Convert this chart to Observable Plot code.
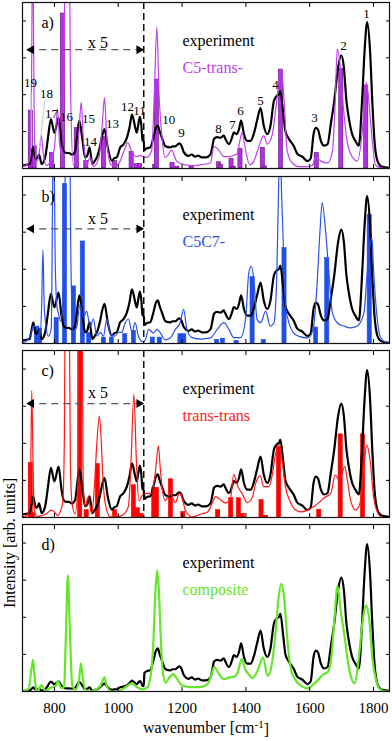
<!DOCTYPE html>
<html><head><meta charset="utf-8">
<script src="https://cdn.jsdelivr.net/npm/d3@7"></script>
<script src="https://cdn.jsdelivr.net/npm/@observablehq/plot@0.6"></script>
<style>
body{margin:0;background:#fff;}
#chart svg{display:block;font-family:"Liberation Serif","Times New Roman",serif !important;}
#chart svg text{font-family:"Liberation Serif","Times New Roman",serif !important;}
</style></head><body><div id="chart"></div>
<script>
// ---------- data (wavenumber [cm-1], intensity [arb. units]) ----------
// experiment, region left of dashed line, as drawn magnified "x 5"
const expLeftX5 = [[700,0.08],[712,0.1],[722,0.12],[727,0.3],[734,0.57],[740,0.3],[745,0.26],[752,0.38],[760,0.12],[771,0.3],[779,0.77],[789,1.34],[800,0.97],[813,1.37],[822,0.77],[829,0.47],[838,0.42],[845,0.42],[855,0.38],[865,0.47],[870,0.8],[878,1.3],[888,0.77],[896,0.3],[903,0.35],[910,0.57],[919,0.12],[926,0.2],[933,0.3],[943,0.6],[950,0.9],[957,1.07],[967,0.57],[980,0.21],[988,0.28],[995,0.3],[1006,0.57],[1016,0.65],[1027,0.83],[1035,1.1],[1043,1.46],[1053,1.12],[1058,0.97],[1063,1.2],[1068,1.4],[1072,1.2],[1076,0.77],[1080,0.73]];
// experiment, right of dashed line (unscaled)
const expRight = [[1082,0.5],[1090,0.55],[1100,0.57],[1110,0.83],[1118,1.1],[1124,1.16],[1130,1.0],[1137,0.83],[1148,0.6],[1163,0.57],[1170,0.6],[1179,0.6],[1186,0.65],[1192,0.68],[1198,0.62],[1205,0.45],[1220,0.34],[1230,0.38],[1241,0.32],[1250,0.35],[1262,0.3],[1274,0.3],[1289,0.38],[1295,0.6],[1300,0.8],[1310,0.85],[1320,0.83],[1331,0.89],[1336,0.8],[1347,0.66],[1357,0.85],[1362,0.98],[1371,0.93],[1378,1.05],[1385,1.3],[1394,0.93],[1404,0.75],[1415,0.75],[1425,0.95],[1435,1.3],[1446,1.64],[1456,1.16],[1467,0.93],[1477,1.16],[1488,1.84],[1498,1.98],[1503,2.0],[1508,2.1],[1517,1.5],[1524,1.0],[1535,0.8],[1550,0.61],[1561,0.4],[1577,0.32],[1593,0.2],[1603,0.27],[1612,0.93],[1619,1.1],[1626,1.05],[1635,0.75],[1645,0.62],[1656,0.66],[1666,1.2],[1677,1.84],[1689,2.74],[1699,3.07],[1707,2.74],[1715,1.84],[1722,1.4],[1733,0.93],[1743,0.75],[1754,0.62],[1764,1.84],[1772,3.2],[1780,3.97],[1789,3.2],[1796,1.84],[1803,0.75],[1812,0.21],[1822,0.07],[1838,0.03],[1850,0.02]];

// C5-trans- conformer
const c5tCurve = [[700,0.05],[715,0.1],[724,0.3],[728,2.0],[732,6.5],[736,2.0],[740,0.4],[745,0.2],[752,0.4],[759,0.89],[765,0.4],[775,0.08],[790,0.25],[800,0.55],[810,1.62],[817,0.6],[825,0.4],[830,2.5],[835,8],[845,8],[850,2.5],[859,0.1],[870,0.3],[877,1.0],[884,1.8],[890,0.9],[895,0.4],[901,0.1],[912,0.3],[922,0.05],[940,0.3],[950,1.2],[957,1.92],[963,1.0],[967,0.5],[978,0.1],[990,0.06],[1006,0.2],[1019,0.5],[1030,0.7],[1040,0.5],[1055,0.32],[1070,0.35],[1080,0.32],[1089,0.3],[1105,0.5],[1113,2.0],[1121,3.84],[1128,2.0],[1138,0.77],[1146,0.3],[1155,0.35],[1167,0.5],[1183,0.2],[1208,0.1],[1240,0.08],[1258,0.1],[1289,0.15],[1300,0.6],[1315,0.5],[1331,0.32],[1347,0.32],[1362,0.36],[1373,0.4],[1380,0.7],[1388,0.98],[1395,0.7],[1399,0.5],[1412,0.1],[1425,0.2],[1441,0.6],[1456,0.89],[1467,0.66],[1483,0.93],[1498,1.93],[1511,2.7],[1519,1.93],[1529,0.5],[1545,0.15],[1566,0.05],[1593,0.05],[1608,0.08],[1619,0.3],[1635,0.2],[1656,0.15],[1671,0.45],[1680,1.84],[1686,3.24],[1694,2.9],[1705,1.7],[1717,0.75],[1733,0.32],[1749,0.2],[1764,0.93],[1777,2.34],[1785,1.84],[1796,0.75],[1806,0.1],[1822,0.02],[1850,0.0]];
const c5tBars = [[726,1.57],[738,0.6],[792,0.42],[827,4.2],[870,1.1],[900,0.2],[955,0.85],[990,0.2],[1042,0.45],[1058,0.12],[1068,0.12],[1116,0.1],[1121,2.41],[1170,0.15],[1185,0.05],[1230,0.05],[1316,0.17],[1322,0.1],[1355,0.26],[1362,0.05],[1383,0.53],[1453,0.56],[1460,0.06],[1510,2.68],[1622,0.42],[1699,2.7],[1777,2.25],[1825,0.03]];

// C5C7- conformer
const c5c7Curve = [[700,0.02],[717,0.1],[728,0.3],[734,0.47],[745,0.45],[750,0.47],[755,0.2],[760,1.0],[764,2.52],[768,1.0],[771,0.65],[781,0.2],[790,0.4],[797,6],[803,2.0],[808,1.0],[813,0.8],[820,0.6],[830,2.0],[838,7],[846,7],[852,2.0],[859,0.3],[870,0.45],[880,1.05],[891,0.7],[901,0.87],[912,0.45],[922,0.66],[933,0.2],[944,0.3],[954,0.2],[964,0.66],[975,0.25],[990,0.2],[1000,0.3],[1011,0.3],[1022,0.56],[1032,0.66],[1043,0.3],[1053,0.56],[1063,0.2],[1076,0.05],[1085,0.1],[1095,0.38],[1111,0.28],[1121,0.38],[1131,0.3],[1147,0.1],[1163,0.15],[1179,0.38],[1194,0.56],[1205,0.92],[1215,0.38],[1231,0.16],[1260,0.12],[1289,0.15],[1310,0.38],[1331,0.56],[1347,0.38],[1362,0.16],[1383,0.16],[1399,0.65],[1409,1.9],[1417,2.08],[1425,1.72],[1435,0.65],[1446,0.56],[1462,0.87],[1476,0.47],[1488,0.56],[1497,1.9],[1502,4.0],[1507,5.5],[1512,4.0],[1516,3.0],[1524,1.0],[1532,0.65],[1548,0.3],[1564,0.2],[1595,0.15],[1611,0.4],[1622,1.45],[1632,3.0],[1639,3.79],[1650,3.0],[1660,1.9],[1671,0.83],[1686,0.56],[1707,0.47],[1728,0.42],[1749,0.47],[1770,0.83],[1780,1.9],[1788,2.6],[1795,2.85],[1800,2.0],[1810,0.8],[1822,0.16],[1840,0.02],[1850,0]];
const c5c7Bars = [[745,0.45],[755,0.4],[807,0.69],[833,4.3],[861,1.54],[889,2.75],[909,0.29],[955,0.16],[980,0.16],[1022,0.25],[1049,0.34],[1108,0.16],[1130,0.16],[1195,0.25],[1207,0.25],[1310,0.1],[1328,0.13],[1371,0.07],[1421,1.79],[1456,0.1],[1521,2.57],[1620,0.43],[1655,2.3],[1788,3.46]];

// trans-trans conformer
const ttCurve = [[700,0.02],[715,0.05],[722,0.3],[726,1.5],[729,3.42],[733,1.5],[736,0.3],[745,0.02],[760,0.05],[775,0.1],[790,0.2],[800,0.15],[811,0.05],[820,0.2],[826,0.4],[831,2.0],[834,6],[846,6],[850,1.5],[855,0.4],[865,0.1],[874,1.0],[878,7],[886,7],[890,1.0],[896,0.3],[906,0.55],[917,0.1],[925,0.8],[933,2.0],[941,2.73],[947,2.0],[951,1.2],[961,0.3],[975,0.02],[995,0.02],[1011,0.05],[1032,0.3],[1040,1.5],[1049,3.32],[1057,1.5],[1065,0.45],[1076,0.6],[1089,0.65],[1105,0.65],[1116,1.2],[1126,1.93],[1131,1.4],[1137,0.83],[1147,0.45],[1163,0.65],[1179,0.4],[1192,0.65],[1200,0.55],[1210,0.2],[1231,0.02],[1262,0.1],[1280,0.15],[1295,0.4],[1305,0.56],[1320,0.48],[1336,0.39],[1352,0.53],[1362,1.16],[1375,0.83],[1388,0.65],[1404,0.4],[1420,0.53],[1430,0.9],[1445,1.12],[1456,0.83],[1472,0.83],[1483,1.16],[1493,1.72],[1504,1.97],[1514,1.5],[1524,0.83],[1540,0.4],[1556,0.2],[1572,0.15],[1593,0.2],[1614,0.3],[1629,0.4],[1645,0.53],[1666,0.65],[1680,1.14],[1693,1.0],[1710,1.38],[1718,1.0],[1730,0.4],[1744,0.2],[1758,0.4],[1768,1.2],[1779,1.95],[1789,1.55],[1800,0.56],[1812,0.15],[1828,0.0],[1850,0]];
const ttBars = [[726,1.47],[733,0.12],[881,8],[901,0.2],[936,1.44],[990,0.2],[1049,0.87],[1062,0.25],[1073,0.1],[1113,0.8],[1121,0.8],[1165,1.03],[1204,0.15],[1313,0.2],[1354,0.52],[1378,0.52],[1390,0.1],[1449,0.47],[1463,0.05],[1504,1.9],[1630,0.21],[1697,2.24],[1767,2.24]];

// composite
const compCurve = [[700,0.0],[719,0.07],[729,0.67],[733,0.85],[737,0.5],[742,0.1],[747,0.02],[759,0.17],[772,0.02],[788,0.1],[804,0.15],[811,0.28],[821,0.1],[830,0.1],[836,1.5],[842,3.13],[849,1.5],[856,0.16],[866,0.05],[877,0.3],[883,0.76],[890,0.3],[897,0.05],[913,0.0],[929,0.05],[944,0.15],[957,0.38],[965,0.12],[981,0.0],[997,0.0],[1012,0.05],[1028,0.15],[1043,0.22],[1059,0.12],[1075,0.06],[1090,0.1],[1103,0.5],[1111,1.5],[1116,2.6],[1122,3.27],[1128,2.6],[1133,1.5],[1139,0.6],[1148,0.24],[1158,0.35],[1172,0.47],[1184,0.35],[1200,0.16],[1226,0.12],[1257,0.12],[1280,0.2],[1290,0.4],[1301,0.66],[1317,0.45],[1332,0.33],[1348,0.38],[1364,0.4],[1374,0.5],[1387,0.88],[1398,0.6],[1410,0.45],[1421,0.36],[1436,0.55],[1454,0.92],[1468,0.42],[1478,0.6],[1492,1.5],[1502,2.5],[1511,2.9],[1520,2.5],[1530,1.4],[1541,0.6],[1556,0.3],[1577,0.13],[1593,0.08],[1609,0.17],[1625,0.3],[1641,0.45],[1657,0.53],[1667,0.85],[1677,1.9],[1687,2.84],[1698,2.1],[1708,1.57],[1719,0.85],[1729,0.4],[1741,0.22],[1753,0.85],[1766,1.9],[1776,2.32],[1787,1.9],[1797,0.85],[1808,0.3],[1818,0.08],[1839,0.0],[1850,0]];

// peak numbering in panel a)
const peakNums = ["1","2","3","4","5","6","7","8","9","10","11","12","13","14","15","16","17","18","19"];
const peakWn   = [1778,1706,1615,1493,1446,1383,1358,1314,1198,1158,1067,1029,982,913,907,838,791,775,725];
const peakV    = [4.19,3.32,1.38,2.27,1.84,1.57,1.19,1.08,0.97,1.32,1.57,1.68,1.22,0.73,1.35,1.41,1.49,2.03,2.32];

const xTicks = [800, 1000, 1200, 1400, 1600, 1800];
const yTicks = [1, 2, 3, 4];
const SCALE = 5;          // magnification of the region left of the dashed line
const SPLIT_WN = 1080;    // dashed line
const ARROW_WN = [715, 1078];

// ---------- drawing ----------
const X_DOMAIN = [700, 1850];
const Y_DOMAIN = [0, 4.5];
const FONT = "'Liberation Serif', 'Times New Roman', serif";
const BAR_HALF = 6.5;

const rows = (pairs, k = 1) => pairs.map(([wn, v]) => ({wn, v: v * k}));

const panels = [
  {letter: "a)", name: "C5-trans-", color: "#c040ee", barFill: "#b52fe2", barStroke: "#5a1470",
   curve: c5tCurve, bars: c5tBars, lineW: 1.2, magnified: true, arrowV: 3.22, x5V: 3.41,
   mt: 2, mb: 4, h: 172},
  {letter: "b)", name: "C5C7-", color: "#2a52ee", barFill: "#1f4fe6", barStroke: "#1f4fe6",
   curve: c5c7Curve, bars: c5c7Bars, lineW: 1.2, magnified: true, arrowV: 3.09, x5V: 3.37,
   mt: 4, mb: 3, h: 174},
  {letter: "c)", name: "trans-trans", color: "#ff1a1a", barFill: "#ff0000", barStroke: "#ff0000",
   curve: ttCurve, bars: ttBars, lineW: 1.2, magnified: true, arrowV: 3.07, x5V: 3.35,
   mt: 4, mb: 3, h: 174},
  {letter: "d)", name: "composite", color: "#66e62a", curve: compCurve, bars: null, lineW: 2.2,
   magnified: false, mt: 4, mb: 50, h: 221, last: true}
];

const root = document.getElementById("chart");

for (const p of panels) {
  const exp = p.magnified
    ? [...rows(expLeftX5), ...rows(expRight)]
    : [...rows(expLeftX5, 1 / SCALE), ...rows(expRight)];
  const marks = [];
  if (p.bars) {
    marks.push(Plot.rect(rows(p.bars), {
      x1: d => d.wn - BAR_HALF, x2: d => d.wn + BAR_HALF, y1: 0, y2: "v",
      fill: p.barFill, stroke: p.barStroke, strokeWidth: 0.6, clip: true
    }));
  }
  marks.push(Plot.line(exp, {x: "wn", y: "v", stroke: "#000", strokeWidth: 2.2, curve: "monotone-x", clip: true}));
  marks.push(Plot.line(rows(p.curve), {x: "wn", y: "v", stroke: p.color, strokeWidth: p.lineW, curve: "monotone-x", clip: true}));

  if (p.magnified) {
    marks.push(Plot.ruleX([SPLIT_WN], {stroke: "#000", strokeWidth: 1.4, strokeDasharray: "7,4"}));
    marks.push(Plot.link([p.arrowV], {x1: ARROW_WN[0], x2: ARROW_WN[1], y1: d => d, y2: d => d,
      stroke: "#555", strokeWidth: 1.2, strokeDasharray: "7,5"}));
    marks.push(Plot.dot([p.arrowV], {x: ARROW_WN[1] - 13, y: d => d, symbol: "triangle", rotate: 90, r: 3.3, fill: "#000", stroke: "none"}));
    marks.push(Plot.dot([p.arrowV], {x: ARROW_WN[0] + 13, y: d => d, symbol: "triangle", rotate: -90, r: 3.3, fill: "#000", stroke: "none"}));
    marks.push(Plot.text(["x 5"], {x: (ARROW_WN[0] + ARROW_WN[1]) / 2 + 40, y: p.x5V, fontSize: 16, fill: "#000"}));
  }

  marks.push(Plot.frame({stroke: "#111", strokeWidth: 1.2}));
  marks.push(Plot.axisX(xTicks, {anchor: "top", tickSize: -4, tickFormat: () => "", label: null}));
  marks.push(Plot.axisX(xTicks, {anchor: "bottom", tickSize: -4, tickFormat: () => "", label: null}));
  marks.push(Plot.axisY(yTicks, {anchor: "left", tickSize: -4, tickFormat: () => "", label: null}));
  marks.push(Plot.axisY(yTicks, {anchor: "right", tickSize: -4, tickFormat: () => "", label: null}));

  marks.push(Plot.text([p.letter], {frameAnchor: "top-left", dx: 19, dy: 20, lineAnchor: "middle", textAnchor: "start", fontSize: 16, fill: "#000"}));
  marks.push(Plot.text(["experiment"], {frameAnchor: "top-left", dx: 160, dy: 38, lineAnchor: "middle", textAnchor: "start", fontSize: 16, fill: "#000"}));
  marks.push(Plot.text([p.name], {frameAnchor: "top-left", dx: 160, dy: 65, lineAnchor: "middle", textAnchor: "start", fontSize: 16, fill: p.color}));

  if (p.letter === "a)") {
    marks.push(Plot.link([0], {x1: 727, y1: 2.08, x2: 728, y2: 0.55, stroke: "#c8c8d0", strokeWidth: 1}));
    marks.push(Plot.link([0], {x1: 770, y1: 1.85, x2: 753, y2: 0.55, stroke: "#c8c8d0", strokeWidth: 1}));
    marks.push(Plot.text(peakNums, {x: (d, i) => peakWn[i], y: (d, i) => peakV[i], text: d => d, fontSize: 13, fill: "#000"}));
  }

  if (p.last) {
    marks.push(Plot.axisX(xTicks, {anchor: "bottom", tickSize: 0, tickPadding: 11, fontSize: 15, tickFormat: d => String(d), label: null}));
    marks.push(Plot.text(["wavenumber [cm-1]"], {frameAnchor: "bottom", dy: 41, fontSize: 16, fill: "#000"}));
    marks.push(Plot.text(["Intensity [arb. units]"], {frameAnchor: "left", dx: -13, rotate: -90, fontSize: 16, fill: "#000"}));
  }

  const svg = Plot.plot({
    width: 392, height: p.h,
    marginLeft: 22, marginRight: 3, marginTop: p.mt, marginBottom: p.mb,
    x: {domain: X_DOMAIN, axis: null},
    y: {domain: Y_DOMAIN, axis: null},
    style: {fontFamily: FONT, fontSize: "15px", background: "#fff", color: "#000", overflow: "visible"},
    marks
  });
  root.appendChild(svg);
}

// superscript for the unit label
d3.selectAll("#chart text").filter(function () { return this.textContent === "wavenumber [cm-1]"; })
  .each(function () {
    const t = d3.select(this);
    t.text(null);
    t.append("tspan").text("wavenumber [cm");
    t.append("tspan").attr("dy", "-0.45em").attr("font-size", "11").text("-1");
    t.append("tspan").attr("dy", "0.45em").text("]");
  });
</script></body></html>
